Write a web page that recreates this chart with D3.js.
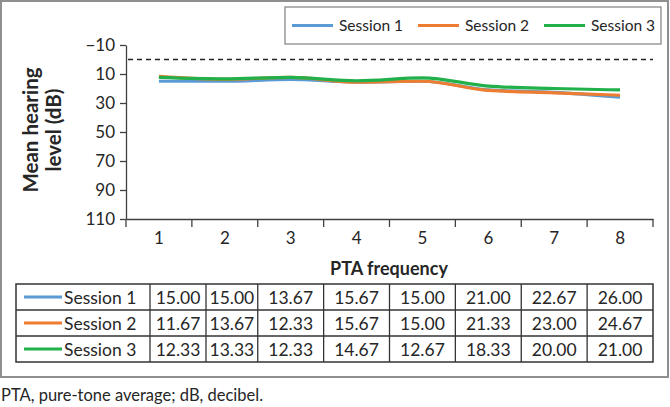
<!DOCTYPE html>
<html><head><meta charset="utf-8">
<script src="https://cdn.jsdelivr.net/npm/d3@7"></script>
<style>
html,body{margin:0;padding:0;background:#fff;}
svg text{font-family:Lato,"Open Sans",sans-serif;fill:#262626;}
</style></head>
<body><svg id="c" width="670" height="407"></svg>
<script>
const frequencies = [1,2,3,4,5,6,7,8];
const sessionNames = ["Session 1","Session 2","Session 3"];
const session1 = [15.00,15.00,13.67,15.67,15.00,21.00,22.67,26.00];
const session2 = [11.67,13.67,12.33,15.67,15.00,21.33,23.00,24.67];
const session3 = [12.33,13.33,12.33,14.67,12.67,18.33,20.00,21.00];
const yTicks = [-10,10,30,50,70,90,110];
const referenceLevel = 0;
const colors = ["#5B9BD5","#ED7D31","#22B04B"];
const series = [session1,session2,session3];

const svg = d3.select("#c");
// outer frame
svg.append("rect").attr("x",1).attr("y",1).attr("width",667).attr("height",376)
  .attr("fill","none").attr("stroke","#8f8f8f").attr("stroke-width",2);

const x = d3.scaleBand().domain(frequencies).range([126,653]).paddingInner(0).paddingOuter(0);
const y = d3.scaleLinear().domain([-10,110]).range([45,219]);
const cx = d => x(d)+x.bandwidth()/2;

// y axis
const ya = svg.append("g").attr("transform","translate(126,0)")
  .call(d3.axisLeft(y).tickValues(yTicks).tickSize(6).tickPadding(5).tickSizeOuter(0));
ya.selectAll("text").attr("font-size",17).style("fill","#262626");
ya.selectAll("line,path").attr("stroke","#404040").attr("stroke-width",1.3);

// x axis
const xa = svg.append("g").attr("transform","translate(0,219)")
  .call(d3.axisBottom(x).tickSize(0).tickPadding(13).tickSizeOuter(0));
xa.selectAll("text").attr("font-size",17).style("fill","#262626");
xa.select("path").attr("stroke","#404040").attr("stroke-width",1.3);
const bounds = frequencies.map(d=>x(d)).concat([x.range()[1]]);
xa.selectAll(".bt").data(bounds).enter().append("line")
  .attr("x1",d=>d).attr("x2",d=>d).attr("y1",0).attr("y2",8)
  .attr("stroke","#404040").attr("stroke-width",1.3);

// dashed reference
svg.append("line").attr("x1",128).attr("x2",653).attr("y1",y(referenceLevel)).attr("y2",y(referenceLevel))
  .attr("stroke","#222").attr("stroke-width",1.3).attr("stroke-dasharray","5,4");

// lines
const line = d3.line().x((v,i)=>cx(frequencies[i])).y(v=>y(v)).curve(d3.curveMonotoneX);
series.forEach((s,i)=>{
  svg.append("path").datum(s).attr("d",line).attr("fill","none")
    .attr("stroke",colors[i]).attr("stroke-width",3.2).attr("stroke-linejoin","round");
});

// axis titles
const yt = svg.append("text").attr("transform","translate(38,130) rotate(-90)")
  .attr("text-anchor","middle").attr("font-size",20.5).attr("font-weight","bold");
yt.append("tspan").attr("x",0).attr("dy",0).text("Mean hearing");
yt.append("tspan").attr("x",0).attr("dy",23).text("level (dB)");
svg.append("text").attr("x",389).attr("y",275).attr("text-anchor","middle")
  .attr("font-size",18).attr("font-weight","bold").text("PTA frequency");

// legend
svg.append("rect").attr("x",285).attr("y",7).attr("width",376).attr("height",37)
  .attr("fill","#fff").attr("stroke","#8a8a8a").attr("stroke-width",1.3);
const legX = [292,418,544];
sessionNames.forEach((n,i)=>{
  svg.append("line").attr("x1",legX[i]).attr("x2",legX[i]+41).attr("y1",25.5).attr("y2",25.5)
    .attr("stroke",colors[i]).attr("stroke-width",3.2);
  svg.append("text").attr("x",legX[i]+47).attr("y",31).attr("font-size",15.5).text(n);
});

// table
const rowTop = 284, rowH = 26;
const colB = [16,150,206].concat(frequencies.slice(2).map(d=>x(d))).concat([x.range()[1]]);
const tg = svg.append("g");
tg.append("rect").attr("x",colB[0]).attr("y",rowTop).attr("width",colB[colB.length-1]-colB[0])
  .attr("height",rowH*3).attr("fill","none").attr("stroke","#333").attr("stroke-width",1.5);
colB.slice(1,-1).forEach(b=>{
  tg.append("line").attr("x1",b).attr("x2",b).attr("y1",rowTop).attr("y2",rowTop+rowH*3)
    .attr("stroke","#333").attr("stroke-width",1.3);
});
[1,2].forEach(r=>{
  tg.append("line").attr("x1",colB[0]).attr("x2",colB[colB.length-1]).attr("y1",rowTop+r*rowH).attr("y2",rowTop+r*rowH)
    .attr("stroke","#333").attr("stroke-width",1.3);
});
series.forEach((s,r)=>{
  const ym = rowTop+r*rowH+rowH/2;
  tg.append("line").attr("x1",24).attr("x2",62).attr("y1",ym).attr("y2",ym)
    .attr("stroke",colors[r]).attr("stroke-width",3);
  tg.append("text").attr("x",64).attr("y",ym+6.5).attr("font-size",17.5).text(sessionNames[r]);
  s.forEach((v,c)=>{
    tg.append("text").attr("x",(colB[c+1]+colB[c+2])/2).attr("y",ym+6.5)
      .attr("text-anchor","middle").attr("font-size",17.5).text(v.toFixed(2));
  });
});

// footnote
svg.append("text").attr("x",1).attr("y",401).attr("font-size",16.5).text("PTA, pure-tone average; dB, decibel.");
</script></body></html>
